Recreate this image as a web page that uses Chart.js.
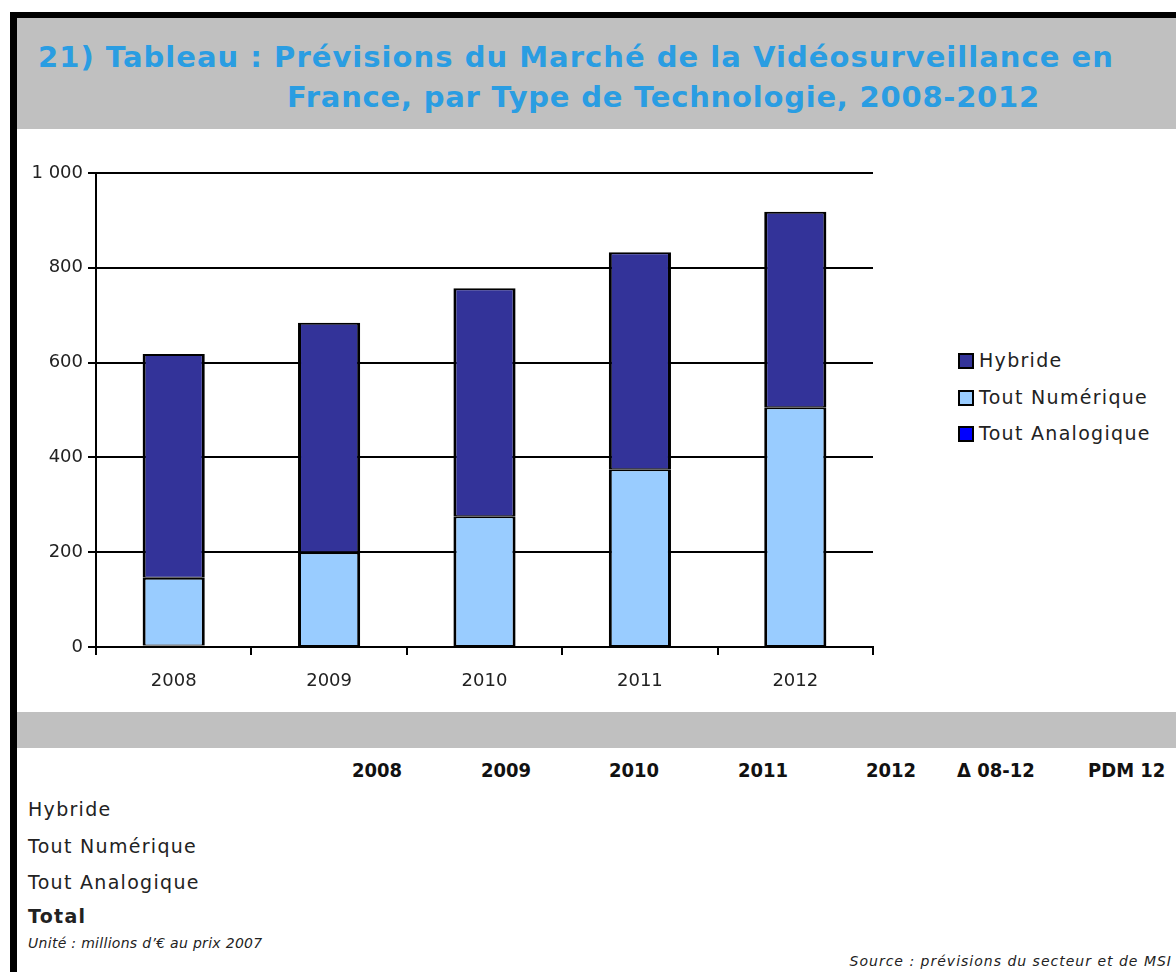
<!DOCTYPE html>
<html>
<head>
<meta charset="utf-8">
<script src="https://cdn.jsdelivr.net/npm/chart.js@4"></script>
<style>
  html, body { margin: 0; padding: 0; background: #fff; }
  body { width: 1176px; height: 972px; position: relative; overflow: hidden; font-family: 'DejaVu Sans', sans-serif; }
  .bar-top { position: absolute; left: 10px; top: 12px; width: 1166px; height: 6px; background: #000; }
  .bar-left { position: absolute; left: 10px; top: 12px; width: 7px; height: 960px; background: #000; }
  .band { position: absolute; left: 17px; width: 1159px; background: #c0c0c0; }
  .title { position: absolute; color: #2a9de2; font-weight: bold; font-size: 29px; white-space: nowrap; line-height: 1; }
  #chart-box { position: absolute; left: 17px; top: 129px; width: 870px; height: 583px; }
  #legend { position: absolute; left: 958px; top: 349px; }
  #legend div { height: 36.5px; font-size: 19px; letter-spacing: 1.3px; color: #222; display: flex; align-items: flex-start; white-space: nowrap; }
  #legend span.box { display: inline-block; width: 12px; height: 12px; border: 2px solid #000; margin: 4px 5px 0 0; }
  .hdr { position: absolute; top: 758px; font-family: 'Liberation Sans Narrow', 'DejaVu Sans Condensed', sans-serif; font-weight: bold; font-size: 20px; color: #111; }
  .row { position: absolute; left: 28px; font-size: 19px; letter-spacing: 1.3px; color: #222; }
  .note { position: absolute; font-style: italic; font-size: 14px; color: #222; white-space: nowrap; }
</style>
</head>
<body>
<div class="bar-top"></div>
<div class="bar-left"></div>
<div class="band" style="top:18px;height:111px"></div>
<div class="band" style="top:712px;height:36px"></div>
<div class="title" id="t1" style="left:38px;top:43px">21)  Tableau : Prévisions du Marché de la Vidéosurveillance en</div>
<div class="title" id="t2" style="left:287px;top:83px">France, par Type de Technologie, 2008-2012</div>

<div id="chart-box"><canvas id="chart"></canvas></div>
<div id="legend"></div>

<div class="hdr" style="left:352px">2008</div>
<div class="hdr" style="left:481px">2009</div>
<div class="hdr" style="left:609px">2010</div>
<div class="hdr" style="left:738px">2011</div>
<div class="hdr" style="left:866px">2012</div>
<div class="hdr" style="left:957px">Δ 08-12</div>
<div class="hdr" style="left:1088px">PDM 12</div>

<div class="row" style="top:798px">Hybride</div>
<div class="row" style="top:835px">Tout Numérique</div>
<div class="row" style="top:871px">Tout Analogique</div>
<div class="row" style="top:905px;font-weight:bold">Total</div>
<div class="note" style="left:28px;top:935px;letter-spacing:0.3px">Unité : millions d’€ au prix 2007</div>
<div class="note" style="right:4px;top:953px;letter-spacing:1px">Source : prévisions du secteur et de MSI</div>

<script>
// Data
const years = ['2008', '2009', '2010', '2011', '2012'];
const hybride = [472, 484, 481, 458, 412];
const numerique = [143, 200, 276, 375, 506];
const analogique = [3, 0, 0, 0, 0];
const yTicks = [0, 200, 400, 600, 800, 1000];

// stretch title lines to the width they have in the original
function fitTitle(id, target) {
    const el = document.getElementById(id);
    const w = el.getBoundingClientRect().width;
    const n = el.textContent.length;
    el.style.letterSpacing = ((target - w) / n) + 'px';
}
fitTitle('t1', 1077);
fitTitle('t2', 753);

const ctx = document.getElementById('chart').getContext('2d');
const chart = new Chart(ctx, {
    type: 'bar',
    data: {
        labels: years,
        datasets: [{
            label: 'Tout Analogique',
            data: analogique,
            backgroundColor: '#0000ff',
            // no outline for empty segments
            borderWidth: (c) => c.raw ? 2 : 0
        }, {
            label: 'Tout Numérique',
            data: numerique,
            backgroundColor: '#99ccff'
        }, {
            label: 'Hybride',
            data: hybride,
            backgroundColor: '#333399'
        }]
    },
    options: {
        responsive: true,
        maintainAspectRatio: false,
        animation: false,
        layout: { padding: { top: 44, right: 14, left: 0, bottom: 0 } },
        datasets: {
            bar: {
                borderColor: '#000',
                borderWidth: { top: 2, bottom: 1, left: 3, right: 3 },
                borderSkipped: false,
                categoryPercentage: 1,
                barPercentage: 0.4
            }
        },
        plugins: {
            legend: { display: false },
            tooltip: { enabled: false }
        },
        scales: {
            x: {
                stacked: true,
                border: { color: '#000', width: 2 },
                grid: { offset: true, drawOnChartArea: false, drawTicks: true, tickLength: 8, color: '#000', lineWidth: 2 },
                ticks: { color: '#222', font: { family: 'DejaVu Sans', size: 18 }, padding: 16 },
                afterFit: (scale) => { scale.height = 65; }
            },
            y: {
                stacked: true,
                min: 0,
                max: 1000,
                border: { color: '#000', width: 2 },
                grid: { color: '#000', lineWidth: 2, tickLength: 8 },
                afterBuildTicks: (scale) => { scale.ticks = yTicks.map(v => ({ value: v })); },
                ticks: {
                    color: '#222',
                    font: { family: 'DejaVu Sans', size: 18 },
                    padding: 5,
                    callback: (v) => v >= 1000 ? '1 000' : String(v)
                },
                afterFit: (scale) => { scale.width = 79; }
            }
        }
    }
});

// HTML legend, top of the stack first
const legendEl = document.getElementById('legend');
chart.options.plugins.legend.labels.generateLabels(chart).reverse().forEach(item => {
    const row = document.createElement('div');
    const box = document.createElement('span');
    box.className = 'box';
    box.style.background = item.fillStyle;
    row.appendChild(box);
    row.appendChild(document.createTextNode(item.text));
    legendEl.appendChild(row);
});
</script>
</body>
</html>
